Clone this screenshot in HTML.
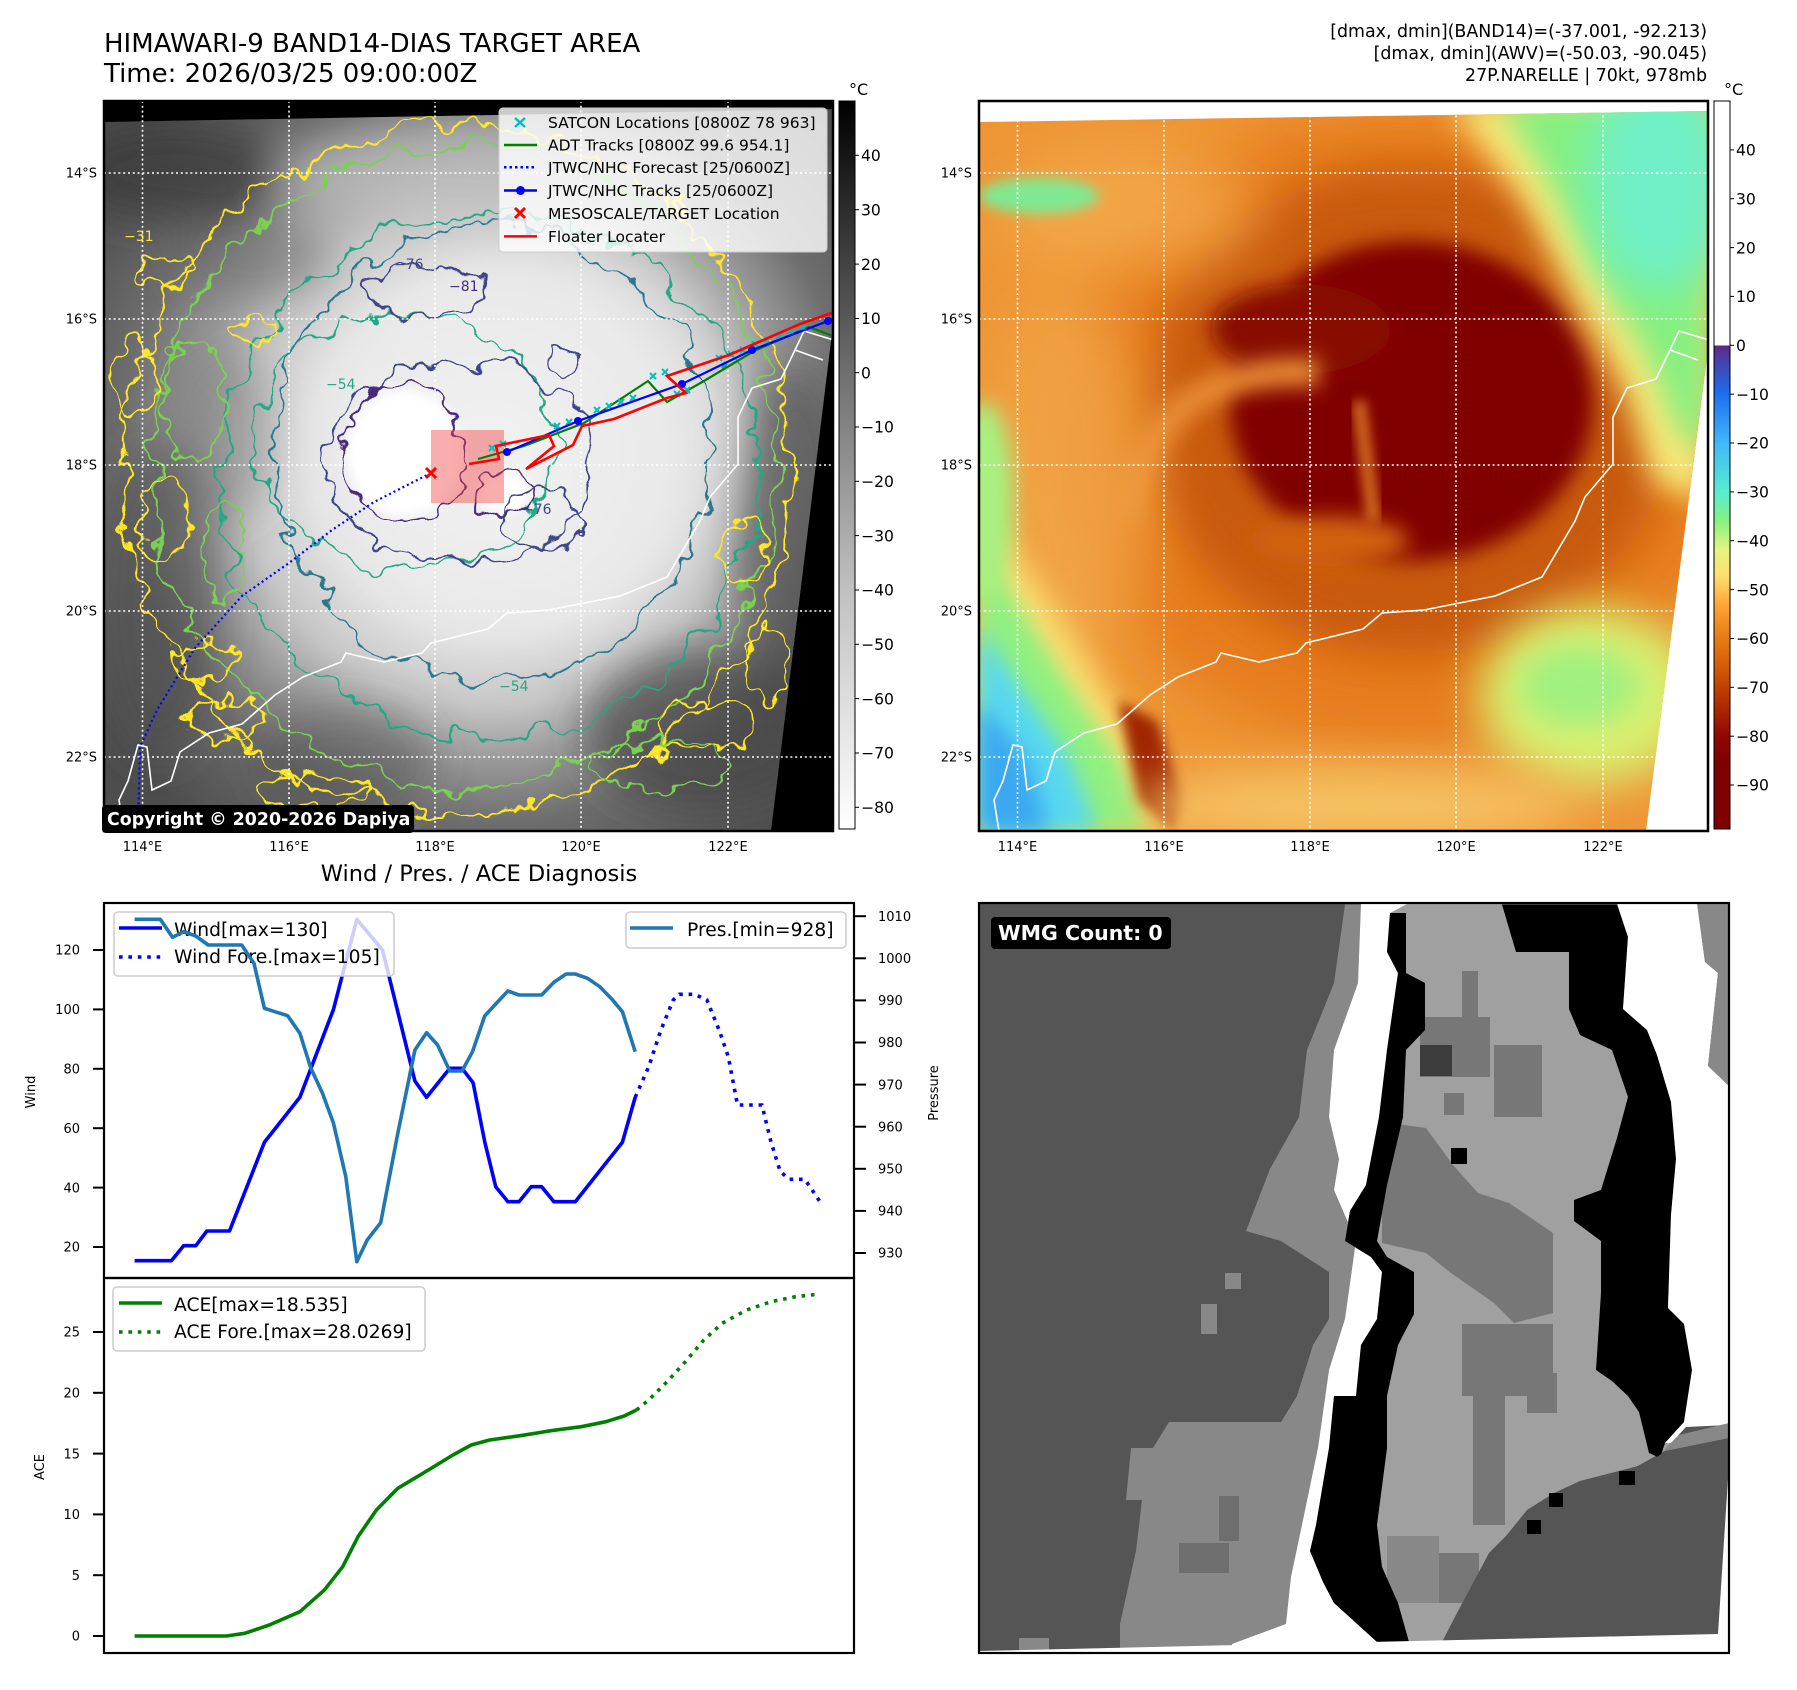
<!DOCTYPE html>
<html><head><meta charset="utf-8"><style>
html,body{margin:0;padding:0;background:#fff;}
svg{display:block;}
</style></head><body>
<svg width="1797" height="1690" viewBox="0 0 1797 1690" xmlns="http://www.w3.org/2000/svg" font-family="'DejaVu Sans','Liberation Sans',sans-serif">
<defs>
 <clipPath id="cL"><polygon points="104,122 833,109 833,325 771,831 104,831"/></clipPath>
 <clipPath id="cLax"><rect x="104" y="101" width="729" height="730"/></clipPath>
 <clipPath id="cR"><polygon points="979,122 1708,111 1708,350 1646,831 979,831"/></clipPath>
 <clipPath id="cRax"><rect x="979" y="101" width="729" height="730"/></clipPath>
 <clipPath id="cBR"><rect x="979" y="903" width="750" height="750"/></clipPath>
 <radialGradient id="gL" cx="385" cy="355" r="470" gradientUnits="userSpaceOnUse">
  <stop offset="0" stop-color="#f8f8f8"/><stop offset="0.38" stop-color="#e4e4e4"/>
  <stop offset="0.53" stop-color="#c6c6c6"/><stop offset="0.65" stop-color="#999"/>
  <stop offset="0.78" stop-color="#6e6e6e"/><stop offset="1" stop-color="#4e4e4e"/>
 </radialGradient>
 <linearGradient id="cb1" x1="0" y1="0" x2="0" y2="1">
  <stop offset="0" stop-color="#000"/><stop offset="0.37" stop-color="#6e6e6e"/>
  <stop offset="0.67" stop-color="#c0c0c0"/><stop offset="1" stop-color="#fff"/>
 </linearGradient>
 <linearGradient id="cb2" x1="0" y1="0" x2="0" y2="1">
  <stop offset="0" stop-color="#fff"/><stop offset="0.3355" stop-color="#fff"/>
  <stop offset="0.3357" stop-color="#5b2a86"/><stop offset="0.4027" stop-color="#1e6ef0"/>
  <stop offset="0.4698" stop-color="#40b8f8"/><stop offset="0.537" stop-color="#58ecd0"/>
  <stop offset="0.575" stop-color="#84f284"/><stop offset="0.617" stop-color="#e4f482"/>
  <stop offset="0.651" stop-color="#ffe070"/><stop offset="0.685" stop-color="#ffb040"/>
  <stop offset="0.718" stop-color="#f08c20"/><stop offset="0.772" stop-color="#d86008"/>
  <stop offset="0.826" stop-color="#b03000"/><stop offset="0.872" stop-color="#900800"/>
  <stop offset="0.906" stop-color="#800000"/><stop offset="1" stop-color="#800000"/>
 </linearGradient>
 <filter id="b6" x="-50%" y="-50%" width="200%" height="200%"><feGaussianBlur stdDeviation="6"/></filter>
 <filter id="b10" x="-50%" y="-50%" width="200%" height="200%"><feGaussianBlur stdDeviation="10"/></filter>
 <filter id="b15" x="-50%" y="-50%" width="200%" height="200%"><feGaussianBlur stdDeviation="15"/></filter>
 <filter id="b22" x="-50%" y="-50%" width="200%" height="200%"><feGaussianBlur stdDeviation="22"/></filter>
 <filter id="b30" x="-50%" y="-50%" width="200%" height="200%"><feGaussianBlur stdDeviation="30"/></filter>
 <filter id="wob" x="-20%" y="-20%" width="140%" height="140%">
  <feTurbulence type="fractalNoise" baseFrequency="0.028" numOctaves="3" seed="7" result="n"/>
  <feDisplacementMap in="SourceGraphic" in2="n" scale="42" xChannelSelector="R" yChannelSelector="G"/>
 </filter>
 <filter id="wob2" x="-30%" y="-30%" width="160%" height="160%">
  <feTurbulence type="fractalNoise" baseFrequency="0.05" numOctaves="2" seed="3" result="n"/>
  <feDisplacementMap in="SourceGraphic" in2="n" scale="30" xChannelSelector="R" yChannelSelector="G"/>
 </filter>
 <path id="coast" d="M733,240 L700,230 L691,249 M719,259 L691,249 L677,278 L648,287 L634,316 L634,363 L606,396 L596,420 L563,476 L516,495 L445,509 L403,512 L384,528 L327,542 L318,552 L280,561 L242,552 L237,561 L199,576 L171,594 L138,623 L105,632 L76,651 L67,680 L48,689 L43,646 L34,644 L24,680 L15,699 L20,730" fill="none" stroke="#fff" stroke-width="1.6"/>
</defs>

<!-- Titles -->
<text x="104" y="52" font-size="26">HIMAWARI-9 BAND14-DIAS TARGET AREA</text>
<text x="104" y="82" font-size="26">Time: 2026/03/25 09:00:00Z</text>
<text x="1707" y="37" font-size="17.4" text-anchor="end">[dmax, dmin](BAND14)=(-37.001, -92.213)</text>
<text x="1707" y="59" font-size="17.4" text-anchor="end">[dmax, dmin](AWV)=(-50.03, -90.045)</text>
<text x="1707" y="81" font-size="17.4" text-anchor="end">27P.NARELLE | 70kt, 978mb</text>

<!-- ============ LEFT MAP ============ -->
<rect x="104" y="101" width="729" height="730" fill="#000"/>
<g clip-path="url(#cL)">
 <g transform="translate(104,101)">
  <rect x="0" y="0" width="729" height="730" fill="url(#gL)"/>
  <g filter="url(#b22)">
   <ellipse cx="380" cy="75" rx="210" ry="55" fill="#c4c4c4" opacity=".6"/>
   <ellipse cx="70" cy="70" rx="110" ry="50" fill="#3a3a3a" opacity=".75"/>
   <ellipse cx="600" cy="630" rx="120" ry="80" fill="#3e3e3e" opacity=".65"/>
   <ellipse cx="55" cy="500" rx="60" ry="160" fill="#484848" opacity=".55"/>
   <ellipse cx="690" cy="430" rx="60" ry="170" fill="#454545" opacity=".6"/>
   <ellipse cx="240" cy="660" rx="90" ry="55" fill="#4a4a4a" opacity=".45"/>
   <ellipse cx="150" cy="160" rx="80" ry="40" fill="#606060" opacity=".4"/>
   <ellipse cx="120" cy="330" rx="50" ry="90" fill="#5a5a5a" opacity=".35"/>
   <ellipse cx="420" cy="340" rx="200" ry="190" fill="#ececec" opacity=".6"/>
  </g>
  <g filter="url(#b6)">
   <ellipse cx="300" cy="352" rx="58" ry="64" fill="#fff"/>
   <ellipse cx="400" cy="392" rx="26" ry="20" fill="#fff"/>
  </g>
  <g filter="url(#wob)" fill="none" stroke-width="2.3">
   <ellipse cx="352" cy="370" rx="335" ry="345" stroke="#fde725"/>
   <ellipse cx="360" cy="365" rx="312" ry="322" stroke="#7ad151"/>
   <ellipse cx="385" cy="375" rx="268" ry="262" stroke="#22a884"/>
   <ellipse cx="300" cy="340" rx="150" ry="128" stroke="#22a884"/>
   <ellipse cx="388" cy="352" rx="218" ry="228" stroke="#2a788e"/>
   <ellipse cx="355" cy="360" rx="135" ry="100" stroke="#414487"/>
   <ellipse cx="318" cy="190" rx="62" ry="24" stroke="#414487"/>
  </g>
  <g filter="url(#wob2)" fill="none" stroke-width="2.2">
   <ellipse cx="60" cy="170" rx="32" ry="14" stroke="#fde725"/>
   <ellipse cx="150" cy="230" rx="22" ry="10" stroke="#fde725"/>
   <ellipse cx="60" cy="420" rx="25" ry="42" stroke="#fde725"/>
   <ellipse cx="100" cy="560" rx="32" ry="20" stroke="#fde725"/>
   <ellipse cx="600" cy="625" rx="52" ry="24" stroke="#fde725"/>
   <ellipse cx="640" cy="450" rx="24" ry="30" stroke="#fde725"/>
   <ellipse cx="210" cy="690" rx="60" ry="15" stroke="#fde725"/>
   <ellipse cx="665" cy="560" rx="20" ry="40" stroke="#fde725"/>
   <ellipse cx="30" cy="280" rx="20" ry="40" stroke="#fde725"/>
   <ellipse cx="120" cy="620" rx="40" ry="20" stroke="#fde725"/>
   <ellipse cx="90" cy="300" rx="30" ry="60" stroke="#7ad151"/>
   <ellipse cx="560" cy="665" rx="70" ry="24" stroke="#7ad151"/>
   <ellipse cx="120" cy="450" rx="20" ry="50" stroke="#7ad151"/>
   <ellipse cx="300" cy="352" rx="62" ry="68" stroke="#472c7a"/>
   <ellipse cx="400" cy="392" rx="30" ry="24" stroke="#472c7a"/>
   <ellipse cx="460" cy="262" rx="12" ry="15" stroke="#414487"/>
   <ellipse cx="440" cy="420" rx="40" ry="30" stroke="#414487"/>
  </g>
  <g font-size="14">
   <text x="290" y="168" fill="#414487">−76</text>
   <text x="345" y="190" fill="#472c7a">−81</text>
   <text x="222" y="288" fill="#22a884">−54</text>
   <text x="395" y="590" fill="#22a884">−54</text>
   <text x="418" y="413" fill="#414487">−76</text>
   <text x="20" y="140" fill="#fde725">−31</text>
  </g>
  <use href="#coast"/>
 </g>
</g>
<!-- grid left -->
<g clip-path="url(#cLax)" stroke="#fff" stroke-width="1.6" stroke-dasharray="2,2.8">
 <line x1="142.5" y1="101" x2="142.5" y2="831"/><line x1="289" y1="101" x2="289" y2="831"/>
 <line x1="435" y1="101" x2="435" y2="831"/><line x1="581" y1="101" x2="581" y2="831"/>
 <line x1="728" y1="101" x2="728" y2="831"/>
 <line x1="104" y1="173" x2="833" y2="173"/><line x1="104" y1="319" x2="833" y2="319"/>
 <line x1="104" y1="465" x2="833" y2="465"/><line x1="104" y1="611" x2="833" y2="611"/>
 <line x1="104" y1="757" x2="833" y2="757"/>
</g>
<!-- tracks -->
<g clip-path="url(#cLax)">
 <g transform="translate(104,101)">
  <rect x="327" y="329" width="73" height="73" fill="#f03c3c" opacity="0.42"/>
  <polyline points="327,372 270,401 228,429 185,462 138,495 91,547 53,609 36,646 34,730" fill="none" stroke="#0000ff" stroke-width="2.2" stroke-dasharray="2,3"/>
  <polyline points="374,358 420,345 480,322 544,280 563,301 600,280 650,250 705,226 729,235 745,242" fill="none" stroke="#008000" stroke-width="2.2"/>
  <g stroke="#00bfbf" stroke-width="2">
   <path d="M385,344l6,6m0,-6l-6,6 M396,340l6,6m0,-6l-6,6 M450,322l6,6m0,-6l-6,6 M462,318l6,6m0,-6l-6,6 M490,306l6,6m0,-6l-6,6 M502,302l6,6m0,-6l-6,6 M514,298l6,6m0,-6l-6,6 M526,294l6,6m0,-6l-6,6 M546,272l6,6m0,-6l-6,6 M558,268l6,6m0,-6l-6,6 M570,290l6,6m0,-6l-6,6 M580,286l6,6m0,-6l-6,6 M612,254l6,6m0,-6l-6,6 M624,250l6,6m0,-6l-6,6 M636,246l6,6m0,-6l-6,6 M648,240l6,6m0,-6l-6,6 M660,236l6,6m0,-6l-6,6 M672,232l6,6m0,-6l-6,6 M684,228l6,6m0,-6l-6,6 M696,224l6,6m0,-6l-6,6"/>
  </g>
  <polyline points="403,351 474,320 578,283 648,249 724,220 745,212" fill="none" stroke="#0000ff" stroke-width="2.2"/>
  <g fill="#0000ff"><circle cx="403" cy="351" r="4"/><circle cx="474" cy="320" r="4"/><circle cx="578" cy="283" r="4"/><circle cx="648" cy="249" r="4"/><circle cx="724" cy="220" r="4"/></g>
  <polyline points="365,363 395,358 392,345 445,334 450,345 422,368 469,344 478,325 510,318 563,297 582,292 563,275 625,254 696,223 745,206" fill="none" stroke="#ff0000" stroke-width="2.6"/>
  <path d="M322,367l10,10m0,-10l-10,10" stroke="#ff0000" stroke-width="3"/>
 </g>
</g>
<!-- legend map -->
<rect x="499" y="108" width="328" height="144" rx="4" fill="#fff" fill-opacity="0.8" stroke="#cccccc" stroke-width="1"/>
<path d="M515,118l10,9m0,-9l-10,9" stroke="#00bfbf" stroke-width="2.5"/>
<line x1="504" y1="145" x2="537" y2="145" stroke="#008000" stroke-width="2.5"/>
<line x1="504" y1="167.3" x2="537" y2="167.3" stroke="#0000ff" stroke-width="2.5" stroke-dasharray="2.5,3"/>
<line x1="504" y1="190.5" x2="537" y2="190.5" stroke="#0000ff" stroke-width="2.5"/><circle cx="520.5" cy="190.5" r="4.5" fill="#0000ff"/>
<path d="M515,208l10,10m0,-10l-10,10" stroke="#ff0000" stroke-width="3"/>
<line x1="504" y1="236.4" x2="537" y2="236.4" stroke="#ff0000" stroke-width="2.5"/>
<g font-size="15.5">
 <text x="548" y="128">SATCON Locations [0800Z 78 963]</text>
 <text x="548" y="150.7">ADT Tracks [0800Z 99.6 954.1]</text>
 <text x="548" y="173">JTWC/NHC Forecast [25/0600Z]</text>
 <text x="548" y="196">JTWC/NHC Tracks [25/0600Z]</text>
 <text x="548" y="219">MESOSCALE/TARGET Location</text>
 <text x="548" y="242">Floater Locater</text>
</g>
<!-- copyright -->
<rect x="102" y="805" width="312" height="28" rx="4" fill="#000"/>
<text x="107" y="825" font-size="17.4" font-weight="bold" fill="#fff">Copyright © 2020-2026 Dapiya</text>
<rect x="104" y="101" width="729" height="730" fill="none" stroke="#000" stroke-width="2.5"/>
<!-- left map ticks -->
<g font-size="13" text-anchor="end">
 <text x="97" y="177.7">14°S</text><text x="97" y="323.7">16°S</text><text x="97" y="469.7">18°S</text><text x="97" y="615.7">20°S</text><text x="97" y="761.7">22°S</text>
</g>
<g font-size="13" text-anchor="middle">
 <text x="142.5" y="851">114°E</text><text x="289" y="851">116°E</text><text x="435" y="851">118°E</text><text x="581" y="851">120°E</text><text x="728" y="851">122°E</text>
</g>
<!-- colorbar left -->
<rect x="839" y="101" width="16" height="728" fill="url(#cb1)" stroke="#000" stroke-width="1"/>
<text x="849" y="95" font-size="16">°C</text>
<g stroke="#000" stroke-width="1">
 <line x1="855" y1="155.3" x2="859" y2="155.3"/><line x1="855" y1="209.7" x2="859" y2="209.7"/><line x1="855" y1="264.1" x2="859" y2="264.1"/><line x1="855" y1="318.5" x2="859" y2="318.5"/><line x1="855" y1="372.7" x2="859" y2="372.7"/><line x1="855" y1="427" x2="859" y2="427"/><line x1="855" y1="481.3" x2="859" y2="481.3"/><line x1="855" y1="535.6" x2="859" y2="535.6"/><line x1="855" y1="590" x2="859" y2="590"/><line x1="855" y1="644.3" x2="859" y2="644.3"/><line x1="855" y1="698.6" x2="859" y2="698.6"/><line x1="855" y1="753" x2="859" y2="753"/><line x1="855" y1="807.3" x2="859" y2="807.3"/>
</g>
<g font-size="15.6">
 <text x="861" y="161">40</text><text x="861" y="215.4">30</text><text x="861" y="269.8">20</text><text x="861" y="324.2">10</text><text x="861" y="378.4">0</text><text x="861" y="432.7">−10</text><text x="861" y="487">−20</text><text x="861" y="541.3">−30</text><text x="861" y="595.7">−40</text><text x="861" y="650">−50</text><text x="861" y="704.3">−60</text><text x="861" y="758.7">−70</text><text x="861" y="813">−80</text>
</g>

<!-- ============ RIGHT MAP ============ -->
<rect x="979" y="101" width="729" height="730" fill="#fff"/>
<g clip-path="url(#cR)">
 <g transform="translate(979,101)">
  <rect x="0" y="0" width="729" height="730" fill="#ee9636"/>
  <ellipse cx="420" cy="330" rx="340" ry="320" fill="#e67c1c" filter="url(#b30)"/>
  <ellipse cx="430" cy="310" rx="265" ry="245" fill="#c85a0c" filter="url(#b22)"/>
  <g filter="url(#b10)">
   <ellipse cx="432" cy="300" rx="182" ry="160" fill="#800000"/>
   <ellipse cx="322" cy="228" rx="90" ry="45" fill="#880800"/>
  </g>
  <path d="M150,420 Q170,262 340,272" stroke="#e88a30" stroke-width="28" fill="none" filter="url(#b10)"/>
  <ellipse cx="350" cy="440" rx="80" ry="25" fill="#d06010" filter="url(#b10)"/>
  <path d="M380,300 L395,420" stroke="#e07a28" stroke-width="12" fill="none" filter="url(#b6)"/>
  <ellipse cx="90" cy="380" rx="80" ry="190" fill="#f2a84a" opacity=".75" filter="url(#b30)"/>
  <ellipse cx="150" cy="110" rx="130" ry="60" fill="#f4ae50" opacity=".7" filter="url(#b30)"/>
  <polygon points="470,0 729,0 729,400 676,385 645,290 595,200 540,95" fill="#f6e878" filter="url(#b15)"/>
  <polygon points="520,0 729,0 729,350 702,335 668,255 618,175 572,85" fill="#84f080" filter="url(#b15)"/>
  <ellipse cx="680" cy="80" rx="70" ry="110" fill="#70f0c8" filter="url(#b22)"/>
  <polygon points="0,400 50,470 110,560 160,640 205,730 0,730" fill="#f8e070" filter="url(#b15)"/>
  <polygon points="0,445 40,505 90,585 138,655 170,730 0,730" fill="#90f080" filter="url(#b10)"/>
  <polygon points="0,525 40,585 88,652 118,730 0,730" fill="#58d8f0" filter="url(#b10)"/>
  <polygon points="0,600 50,660 70,730 0,730" fill="#3aa8f0" filter="url(#b10)"/>
  <polygon points="140,600 178,620 205,700 195,730 160,700" fill="#a02800" filter="url(#b6)"/>
  <ellipse cx="5" cy="400" rx="30" ry="100" fill="#a8f080" filter="url(#b10)"/>
  <ellipse cx="60" cy="95" rx="60" ry="18" fill="#80e890" filter="url(#b6)"/>
  <ellipse cx="610" cy="595" rx="110" ry="90" fill="#d8f070" filter="url(#b22)"/>
  <ellipse cx="600" cy="585" rx="60" ry="40" fill="#a0f080" filter="url(#b15)"/>
  <ellipse cx="380" cy="705" rx="220" ry="40" fill="#f5c060" filter="url(#b22)"/>
  <use href="#coast"/>
 </g>
</g>
<g clip-path="url(#cRax)" stroke="#fff" stroke-width="1.6" stroke-dasharray="2,2.8">
 <line x1="1017.5" y1="101" x2="1017.5" y2="831"/><line x1="1164" y1="101" x2="1164" y2="831"/>
 <line x1="1310" y1="101" x2="1310" y2="831"/><line x1="1456" y1="101" x2="1456" y2="831"/>
 <line x1="1603" y1="101" x2="1603" y2="831"/>
 <line x1="979" y1="173" x2="1708" y2="173"/><line x1="979" y1="319" x2="1708" y2="319"/>
 <line x1="979" y1="465" x2="1708" y2="465"/><line x1="979" y1="611" x2="1708" y2="611"/>
 <line x1="979" y1="757" x2="1708" y2="757"/>
</g>
<rect x="979" y="101" width="729" height="730" fill="none" stroke="#000" stroke-width="2.5"/>
<g font-size="13" text-anchor="end">
 <text x="972" y="177.7">14°S</text><text x="972" y="323.7">16°S</text><text x="972" y="469.7">18°S</text><text x="972" y="615.7">20°S</text><text x="972" y="761.7">22°S</text>
</g>
<g font-size="13" text-anchor="middle">
 <text x="1017.5" y="851">114°E</text><text x="1164" y="851">116°E</text><text x="1310" y="851">118°E</text><text x="1456" y="851">120°E</text><text x="1603" y="851">122°E</text>
</g>
<rect x="1714" y="101" width="16" height="728" fill="url(#cb2)" stroke="#000" stroke-width="1"/>
<text x="1724" y="95" font-size="16">°C</text>
<g stroke="#000" stroke-width="1">
 <line x1="1730" y1="149.9" x2="1734" y2="149.9"/><line x1="1730" y1="198.7" x2="1734" y2="198.7"/><line x1="1730" y1="247.6" x2="1734" y2="247.6"/><line x1="1730" y1="296.4" x2="1734" y2="296.4"/><line x1="1730" y1="345.3" x2="1734" y2="345.3"/><line x1="1730" y1="394.2" x2="1734" y2="394.2"/><line x1="1730" y1="443" x2="1734" y2="443"/><line x1="1730" y1="491.9" x2="1734" y2="491.9"/><line x1="1730" y1="540.7" x2="1734" y2="540.7"/><line x1="1730" y1="589.6" x2="1734" y2="589.6"/><line x1="1730" y1="638.5" x2="1734" y2="638.5"/><line x1="1730" y1="687.3" x2="1734" y2="687.3"/><line x1="1730" y1="736.2" x2="1734" y2="736.2"/><line x1="1730" y1="785" x2="1734" y2="785"/>
</g>
<g font-size="15.6">
 <text x="1736" y="155.6">40</text><text x="1736" y="204.4">30</text><text x="1736" y="253.3">20</text><text x="1736" y="302.1">10</text><text x="1736" y="351">0</text><text x="1736" y="399.9">−10</text><text x="1736" y="448.7">−20</text><text x="1736" y="497.6">−30</text><text x="1736" y="546.4">−40</text><text x="1736" y="595.3">−50</text><text x="1736" y="644.2">−60</text><text x="1736" y="693">−70</text><text x="1736" y="741.9">−80</text><text x="1736" y="790.7">−90</text>
</g>

<!-- ============ WIND / PRES ============ -->
<text x="479" y="881" font-size="22.5" text-anchor="middle">Wind / Pres. / ACE Diagnosis</text>
<polyline points="134.6,1260.7 171.4,1260.7 183.6,1245.7 195.8,1245.7 206.9,1231 229.5,1231 264.4,1142.3 299.9,1097.3 333.5,1009.3 356.8,919.3 382.5,950 414.9,1081 426.6,1097.3 449.8,1068.3 462,1068.3 473.1,1082.7 484.7,1141.7 495.7,1186.7 507.9,1201.7 519,1201.7 531.2,1186.7 541.6,1186.7 553.9,1201.7 575.3,1201.7 622.4,1142.3 635.2,1097.3" fill="none" stroke="#0000ff" stroke-width="3.6" stroke-linejoin="round"/>
<polyline points="635.2,1097.3 648.7,1066.7 660.9,1030 673.2,1000 679.3,994.3 694.6,994.3 706.9,1000 719.1,1030 728.3,1056.7 737.5,1105 761.9,1105 771.1,1142.3 780.3,1171.7 789.5,1179.3 804.8,1179.3 820,1201.7" fill="none" stroke="#0000ff" stroke-width="3.6" stroke-dasharray="3.6,5.8"/>
<rect x="114" y="912" width="280" height="64" rx="4" fill="#fff" fill-opacity="0.8" stroke="#cccccc" stroke-width="1.5"/>
<line x1="119" y1="928" x2="162" y2="928" stroke="#0000ff" stroke-width="3.6"/>
<line x1="119" y1="957" x2="162" y2="957" stroke="#0000ff" stroke-width="3.6" stroke-dasharray="3.6,5.8"/>
<text x="174" y="936" font-size="18.7">Wind[max=130]</text>
<text x="174" y="963" font-size="18.7">Wind Fore.[max=105]</text>
<polyline points="134.6,919.3 160.3,919.3 172.6,937.3 183.6,931.7 195.8,936 208.1,945 241.7,945 254,963.3 264.4,1008.3 287.6,1015.7 299.9,1033.3 310.9,1068.3 322.5,1093.3 333.5,1123.3 345.8,1176.7 356.8,1261.7 367.2,1240 380.7,1222.7 397.8,1133.3 414.9,1050 426.6,1032.7 437.6,1045 449.8,1071 462,1071 472.5,1051.7 484.7,1016 495.7,1004 507.9,991 519,995 541.6,995 553.9,982.3 566.1,974 575.3,974 587.5,978.3 599.8,986.7 612,999.3 622.4,1011.7 635.2,1051.7" fill="none" stroke="#1f77b4" stroke-width="3.6" stroke-linejoin="round"/>
<rect x="626" y="912" width="220" height="36" rx="4" fill="#fff" fill-opacity="0.8" stroke="#cccccc" stroke-width="1.5"/>
<line x1="630" y1="928" x2="673" y2="928" stroke="#1f77b4" stroke-width="3.6"/>
<text x="687" y="936" font-size="18.7">Pres.[min=928]</text>
<rect x="104" y="903" width="750" height="375" fill="none" stroke="#000" stroke-width="2.2"/>
<g stroke="#000" stroke-width="2">
 <line x1="93" y1="1247" x2="104" y2="1247"/><line x1="93" y1="1187.6" x2="104" y2="1187.6"/><line x1="93" y1="1128.2" x2="104" y2="1128.2"/><line x1="93" y1="1068.8" x2="104" y2="1068.8"/><line x1="93" y1="1009.4" x2="104" y2="1009.4"/><line x1="93" y1="950" x2="104" y2="950"/>
 <line x1="854" y1="1253" x2="866" y2="1253"/><line x1="854" y1="1210.9" x2="866" y2="1210.9"/><line x1="854" y1="1168.8" x2="866" y2="1168.8"/><line x1="854" y1="1126.7" x2="866" y2="1126.7"/><line x1="854" y1="1084.6" x2="866" y2="1084.6"/><line x1="854" y1="1042.5" x2="866" y2="1042.5"/><line x1="854" y1="1000.4" x2="866" y2="1000.4"/><line x1="854" y1="958.3" x2="866" y2="958.3"/><line x1="854" y1="916.2" x2="866" y2="916.2"/>
</g>
<g font-size="13" text-anchor="end">
 <text x="80" y="1251.7">20</text><text x="80" y="1192.3">40</text><text x="80" y="1132.9">60</text><text x="80" y="1073.5">80</text><text x="80" y="1014.1">100</text><text x="80" y="954.7">120</text>
</g>
<g font-size="13">
 <text x="878" y="1257.7">930</text><text x="878" y="1215.6">940</text><text x="878" y="1173.5">950</text><text x="878" y="1131.4">960</text><text x="878" y="1089.3">970</text><text x="878" y="1047.2">980</text><text x="878" y="1005.1">990</text><text x="878" y="963">1000</text><text x="878" y="920.9">1010</text>
</g>
<text transform="translate(35,1092) rotate(-90)" font-size="13" text-anchor="middle">Wind</text>
<text transform="translate(938,1093) rotate(-90)" font-size="13" text-anchor="middle">Pressure</text>

<!-- ============ ACE ============ -->
<polyline points="134.6,1636 226.4,1636 244.8,1633.3 269.3,1625 299.9,1611.7 324.4,1590 342.7,1566.7 358,1536.7 376.4,1510 397.8,1488.3 428.4,1470 452.9,1455 471.2,1445 489.6,1440 520.2,1435.7 550.8,1430.7 581.4,1426.7 605.9,1421.7 624.2,1416 636.5,1410" fill="none" stroke="#008000" stroke-width="3.6" stroke-linejoin="round"/>
<polyline points="636.5,1410 648.7,1400 667.1,1381.7 685.4,1361.7 703.8,1340 722.2,1323.3 746.6,1310 771.1,1301.7 795.6,1296.7 820,1294" fill="none" stroke="#008000" stroke-width="3.6" stroke-dasharray="3.6,5.8"/>
<rect x="113" y="1287" width="312" height="64" rx="4" fill="#fff" fill-opacity="0.8" stroke="#cccccc" stroke-width="1.5"/>
<line x1="119" y1="1303" x2="162" y2="1303" stroke="#008000" stroke-width="3.6"/>
<line x1="119" y1="1332" x2="162" y2="1332" stroke="#008000" stroke-width="3.6" stroke-dasharray="3.6,5.8"/>
<text x="174" y="1311" font-size="18.7">ACE[max=18.535]</text>
<text x="174" y="1338" font-size="18.7">ACE Fore.[max=28.0269]</text>
<rect x="104" y="1278" width="750" height="375" fill="none" stroke="#000" stroke-width="2.2"/>
<g stroke="#000" stroke-width="2">
 <line x1="93" y1="1636" x2="104" y2="1636"/><line x1="93" y1="1575.2" x2="104" y2="1575.2"/><line x1="93" y1="1514.4" x2="104" y2="1514.4"/><line x1="93" y1="1453.6" x2="104" y2="1453.6"/><line x1="93" y1="1392.8" x2="104" y2="1392.8"/><line x1="93" y1="1332" x2="104" y2="1332"/>
</g>
<g font-size="13" text-anchor="end">
 <text x="80" y="1640.7">0</text><text x="80" y="1579.9">5</text><text x="80" y="1519.1">10</text><text x="80" y="1458.3">15</text><text x="80" y="1397.5">20</text><text x="80" y="1336.7">25</text>
</g>
<text transform="translate(44,1467) rotate(-90)" font-size="13" text-anchor="middle">ACE</text>

<!-- ============ WMG BLOCK IMAGE ============ -->
<g clip-path="url(#cBR)">
 <g transform="translate(979,903)">
  <rect x="0" y="0" width="750" height="750" fill="#555555"/>
  <polygon points="382,0 650,0 700,540 520,640 462,750 253,750 340,540 377,338" fill="#a0a0a0"/>
  <g fill="#777777">
   <rect x="441" y="114" width="70" height="60"/>
   <rect x="483" y="68" width="16" height="46"/>
   <rect x="515" y="142" width="48" height="72"/>
   <polygon points="403,219 447,225 474,262 499,290 530,300 574,330 574,410 535,420 515,400 472,370 447,350 403,340"/>
   <rect x="483" y="421" width="91" height="72"/>
   <rect x="494" y="493" width="32" height="129"/>
   <rect x="460" y="650" width="40" height="50"/>
   <rect x="465" y="190" width="20" height="22"/>
   <rect x="548" y="470" width="30" height="40"/>
  </g>
  <rect x="441" y="142" width="32" height="31" fill="#3c3c3c"/>
  <rect x="408" y="633" width="52" height="67" fill="#888888"/>
  <rect x="472" y="245" width="16" height="16" fill="#000"/>
  <polygon points="366,1.5 355,80 328,147 320,214 291,266 267,328 302,338 350,369 350,416 334,442 318,493 302,519 190,519 174,545 152,545 147,597 163,597 157,648 141,721 141,750 253,750 253,741 307,721 312,674 323,622 339,545 350,467 366,416 377,338 355,287 360,256 350,214 355,147 379,80 382,1.5" fill="#888888"/>
  <g fill="#888888"><rect x="222" y="401" width="16" height="30"/><rect x="246" y="370" width="16" height="16"/><rect x="40" y="735" width="30" height="15"/></g>
  <g fill="#6e6e6e"><rect x="240" y="593" width="20" height="45"/><rect x="200" y="640" width="50" height="30"/></g>
  <polygon points="382,0 430,0 411,10 408,49 419,70 408,147 400,214 387,282 371,308 366,338 392,354 403,369 398,416 382,442 377,493 355,493 350,545 337,622 331,648 344,679 355,700 398,739 400,750 253,750 253,741 307,721 312,674 323,622 339,545 350,467 366,416 377,338 355,287 360,256 350,214 355,147 379,80" fill="#ffffff"/>
  <polygon points="411,10 408,49 419,70 408,147 400,214 387,282 371,308 366,338 392,354 403,369 398,416 382,442 377,493 355,493 350,545 337,622 331,648 344,679 355,700 398,739 400,746 432,746 430,739 419,700 403,664 398,622 408,545 408,493 419,442 435,411 435,369 408,354 398,338 408,282 424,214 427,147 446,127 446,80 427,70 427,10" fill="#000"/>
  <polygon points="523,1.5 537,49 590,49 590,106 601,132 633,147 649,194 638,235 622,287 595,297 595,318 622,338 622,390 617,467 633,478 649,493 660,509 670,550 681,555 686,540 705,519 713,467 705,421 689,405 692,312 697,256 692,199 678,152 668,127 644,106 649,34 638,1.5" fill="#000"/>
  <polygon points="638,0 718,0 726,59 739,70 729,163 750,183 750,522 707,524 692,540 686,540 705,519 713,467 705,421 689,405 692,312 697,256 692,199 678,152 668,127 644,106 649,34" fill="#ffffff"/>
  <polygon points="718,0 750,0 750,183 729,163 739,70 726,59" fill="#888888"/>
  <polygon points="686,546 700,532 750,520 750,545 692,556" fill="#888888"/>
  <polygon points="750,535 686,548 670,560 640,568 601,578 575,590 548,607 527,633 510,650 494,680 478,710 462,741 739,731 750,560" fill="#555555"/>
  <g fill="#000"><rect x="640" y="568" width="16" height="14"/><rect x="570" y="590" width="14" height="14"/><rect x="548" y="617" width="14" height="14"/></g>
  <polygon points="739,731 750,560 750,750 0,750 0,748" fill="#ffffff"/>
 </g>
</g>
<rect x="979" y="903" width="750" height="750" fill="none" stroke="#000" stroke-width="2.2"/>
<rect x="991" y="917" width="180" height="32" rx="4" fill="#000"/>
<text x="998" y="940" font-size="20.5" font-weight="bold" fill="#fff">WMG Count: 0</text>
</svg>
</body></html>
